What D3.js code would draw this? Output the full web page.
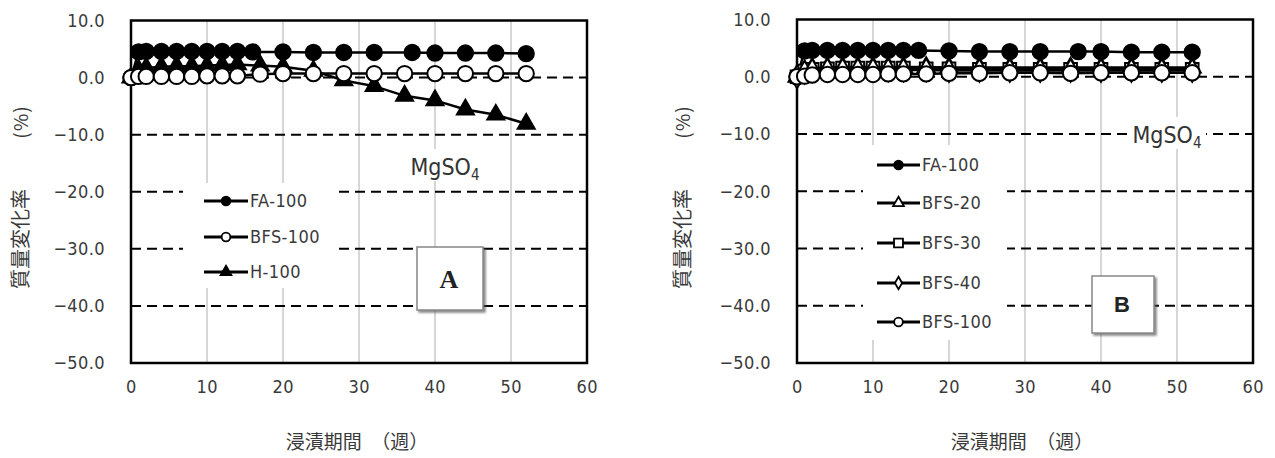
<!DOCTYPE html>
<html>
<head>
<meta charset="utf-8">
<script src="https://cdn.jsdelivr.net/npm/d3@7"></script>
<style>
  body { margin: 0; background: #fff; }
  svg { display: block; }
</style>
</head>
<body>
<div id="wrapper"></div>
<script>
// ---- data ----
const xTicks = [0, 10, 20, 30, 40, 50, 60];
const yTicks = [10, 0, -10, -20, -30, -40, -50];
const yGrid = [0, -10, -20, -30, -40];
const xGrid = [10, 20, 30, 40, 50];

const weeksFA = [0, 1, 2, 4, 6, 8, 10, 12, 14, 16, 20, 24, 28, 32, 37, 40, 44, 48, 52];
const weeksBFS = [0, 1, 2, 4, 6, 8, 10, 12, 14, 17, 20, 24, 28, 32, 36, 40, 44, 48, 52];

// panel A
const aFA100 = [0, 4.5, 4.6, 4.6, 4.6, 4.6, 4.6, 4.6, 4.6, 4.5, 4.5, 4.4, 4.4, 4.4, 4.4, 4.3, 4.3, 4.3, 4.2];
const aBFS100 = [0, 0.2, 0.2, 0.2, 0.2, 0.2, 0.3, 0.3, 0.3, 0.6, 0.7, 0.7, 0.7, 0.7, 0.7, 0.7, 0.7, 0.7, 0.7];
const aH100 = [0, 1.3, 1.7, 1.9, 2.0, 2.0, 2.1, 2.2, 2.3, 2.1, 1.9, 1.2, -0.5, -1.5, -3.2, -4.0, -5.6, -6.5, -8.1];

// panel B
const bFA100 = [0, 4.5, 4.6, 4.6, 4.6, 4.6, 4.6, 4.6, 4.6, 4.6, 4.5, 4.4, 4.4, 4.4, 4.4, 4.4, 4.3, 4.3, 4.3];
const bBFS20 = [0, 1.1, 1.5, 1.6, 1.7, 1.7, 1.7, 1.7, 1.7, 1.7, 1.6, 1.6, 1.6, 1.6, 1.6, 1.6, 1.6, 1.6, 1.6];
const bBFS30 = [0, 1.0, 1.3, 1.4, 1.5, 1.5, 1.5, 1.5, 1.5, 1.4, 1.4, 1.3, 1.3, 1.3, 1.3, 1.3, 1.3, 1.3, 1.3];
const bBFS40 = [0, 0.8, 1.1, 1.2, 1.2, 1.2, 1.2, 1.2, 1.2, 1.2, 1.1, 1.1, 1.1, 1.1, 1.1, 1.1, 1.1, 1.1, 1.1];
const bBFS100 = [0, 0.1, 0.3, 0.4, 0.4, 0.4, 0.4, 0.5, 0.5, 0.5, 0.6, 0.6, 0.7, 0.7, 0.6, 0.7, 0.7, 0.7, 0.7];

const seriesA = [
  { name: "H-100", weeks: weeksBFS, values: aH100, symbol: "triangle", fill: "#000" },
  { name: "FA-100", weeks: weeksFA, values: aFA100, symbol: "circle", fill: "#000" },
  { name: "BFS-100", weeks: weeksBFS, values: aBFS100, symbol: "circle", fill: "#fff" },
];
const legendA = ["FA-100", "BFS-100", "H-100"];

const seriesB = [
  { name: "FA-100", weeks: weeksFA, values: bFA100, symbol: "circle", fill: "#000" },
  { name: "BFS-20", weeks: weeksBFS, values: bBFS20, symbol: "triangle", fill: "#fff" },
  { name: "BFS-30", weeks: weeksBFS, values: bBFS30, symbol: "square", fill: "#fff" },
  { name: "BFS-40", weeks: weeksBFS, values: bBFS40, symbol: "diamond", fill: "#fff" },
  { name: "BFS-100", weeks: weeksBFS, values: bBFS100, symbol: "circle", fill: "#fff" },
];
const legendB = ["FA-100", "BFS-20", "BFS-30", "BFS-40", "BFS-100"];

const xTitle = "浸漬期間　（週）";
const yTitleMain = "質量変化率";
const yTitleUnit = "(%)";

// ---- drawing ----
const width = 1275, height = 458;
const tickFont = "'Liberation Sans Narrow', 'DejaVu Sans Condensed', sans-serif";
const jpFont = "'Noto Sans CJK JP', sans-serif";
const textGray = "#3a3a3a";

const svg = d3.select("#wrapper").append("svg")
  .attr("width", width)
  .attr("height", height);

const defs = svg.append("defs");
defs.append("filter").attr("id", "shadow")
  .attr("x", "-20%").attr("y", "-20%").attr("width", "150%").attr("height", "150%")
  .append("feDropShadow")
  .attr("dx", 2).attr("dy", 2).attr("stdDeviation", 1)
  .attr("flood-color", "#555").attr("flood-opacity", 0.7);

const symbolTypes = {
  circle: d3.symbolCircle,
  triangle: d3.symbolTriangle,
  square: d3.symbolSquare,
  diamond: d3.symbolDiamond,
};
const bigSize = { circle: 185, triangle: 125, square: 160, diamond: 150 };
const smallSize = { circle: 60, triangle: 50, square: 80, diamond: 45 };

// narrow gothic-like text used for ticks and legend
function tickText(sel) {
  return sel
    .attr("font-family", tickFont).attr("font-size", 18)
    .attr("letter-spacing", 0.4)
    .attr("fill", textGray);
}

function drawPanel(cfg) {
  const x = d3.scaleLinear().domain([0, 60]).range([cfg.left, cfg.right]);
  const y = d3.scaleLinear().domain([-50, 10]).range([cfg.bottom, cfg.top]);

  const g = svg.append("g");

  // vertical light grid
  g.append("g").selectAll("line").data(xGrid).join("line")
    .attr("x1", d => x(d)).attr("x2", d => x(d))
    .attr("y1", cfg.top).attr("y2", cfg.bottom)
    .attr("stroke", "#c8c8c8").attr("stroke-width", 1.5);

  // horizontal dashed grid
  g.append("g").selectAll("line").data(yGrid).join("line")
    .attr("x1", cfg.left).attr("x2", cfg.right)
    .attr("y1", d => y(d)).attr("y2", d => y(d))
    .attr("stroke", "#000").attr("stroke-width", 2)
    .attr("stroke-dasharray", "10,6");

  // white boxes (legend, label) sit over grid
  g.append("rect")
    .attr("x", cfg.legend.x).attr("y", cfg.legend.y)
    .attr("width", cfg.legend.w).attr("height", cfg.legend.h)
    .attr("fill", "#fff");
  g.append("rect")
    .attr("x", cfg.salt.x - cfg.salt.w / 2).attr("y", cfg.salt.y - 18)
    .attr("width", cfg.salt.w).attr("height", 32)
    .attr("fill", "#fff");

  // plot frame
  g.append("rect")
    .attr("x", cfg.left).attr("y", cfg.top)
    .attr("width", cfg.right - cfg.left).attr("height", cfg.bottom - cfg.top)
    .attr("fill", "none").attr("stroke", "#000").attr("stroke-width", 2.5);

  // tick labels
  g.append("g").selectAll("text").data(yTicks).join("text")
    .attr("x", cfg.yLabelX).attr("y", d => y(d))
    .attr("dy", "0.35em")
    .attr("text-anchor", "end")
    .call(tickText)
    .text(d3.format(".1f"));

  g.append("g").selectAll("text").data(xTicks).join("text")
    .attr("x", d => x(d) + 0.3).attr("y", 387)
    .attr("dy", "0.35em")
    .attr("text-anchor", "middle")
    .call(tickText)
    .text(d => d);

  // series
  const line = d3.line().x(d => x(d[0])).y(d => y(d[1]));
  cfg.series.forEach(s => {
    const pts = s.weeks.map((w, i) => [w, s.values[i]]);
    g.append("path")
      .attr("d", line(pts))
      .attr("fill", "none").attr("stroke", "#000").attr("stroke-width", 2.5);
    g.append("g").selectAll("path").data(pts).join("path")
      .attr("transform", d => `translate(${x(d[0])},${y(d[1])})`)
      .attr("d", d3.symbol(symbolTypes[s.symbol], bigSize[s.symbol]))
      .attr("fill", s.fill).attr("stroke", "#000").attr("stroke-width", 2);
  });

  // legend
  const lg = g.append("g");
  cfg.legendNames.forEach((name, i) => {
    const s = cfg.series.find(d => d.name === name);
    const ly = cfg.legend.rows[i];
    lg.append("line")
      .attr("x1", cfg.legend.lineX0).attr("x2", cfg.legend.lineX1)
      .attr("y1", ly).attr("y2", ly)
      .attr("stroke", "#000").attr("stroke-width", 3);
    lg.append("path")
      .attr("transform", `translate(${(cfg.legend.lineX0 + cfg.legend.lineX1) / 2},${ly})`)
      .attr("d", d3.symbol(symbolTypes[s.symbol], smallSize[s.symbol]))
      .attr("fill", s.fill).attr("stroke", "#000").attr("stroke-width", 1.8);
    lg.append("text")
      .attr("x", cfg.legend.lineX1 + 2).attr("y", ly)
      .attr("dy", "0.35em")
      .call(tickText)
      .text(name);
  });

  // MgSO4 label
  const salt = g.append("text")
    .attr("x", cfg.salt.x).attr("y", cfg.salt.y + 8)
    .attr("text-anchor", "middle")
    .attr("font-family", tickFont).attr("font-size", 23)
    .attr("fill", "#333");
  salt.append("tspan").text("MgSO");
  salt.append("tspan").attr("font-size", 15).attr("dy", 5).text("4");

  // letter box
  g.append("rect")
    .attr("x", cfg.tag.x).attr("y", cfg.tag.y)
    .attr("width", cfg.tag.w).attr("height", cfg.tag.h)
    .attr("fill", "#fff").attr("stroke", "#888").attr("stroke-width", 1.5)
    .attr("filter", "url(#shadow)");
  g.append("text")
    .attr("x", cfg.tag.x + cfg.tag.w / 2 - 1).attr("y", cfg.tag.y + cfg.tag.h / 2)
    .attr("dy", "0.35em")
    .attr("text-anchor", "middle")
    .attr("font-family", cfg.tag.font).attr("font-weight", "bold")
    .attr("font-size", cfg.tag.size)
    .attr("fill", "#222")
    .text(cfg.tag.label);

  // axis titles
  g.append("text")
    .attr("x", cfg.xTitleX).attr("y", 442)
    .attr("dy", "0.35em")
    .attr("text-anchor", "middle")
    .attr("font-family", jpFont).attr("font-size", 19)
    .attr("fill", textGray)
    .text(xTitle);

  g.append("text")
    .attr("transform", `translate(${cfg.yTitleX},239) rotate(-90)`)
    .attr("dy", "0.35em")
    .attr("text-anchor", "middle")
    .attr("font-family", jpFont).attr("font-size", 20)
    .attr("fill", textGray)
    .text(yTitleMain);
  g.append("text")
    .attr("transform", `translate(${cfg.yTitleX},122) rotate(-90)`)
    .attr("dy", "0.35em")
    .attr("text-anchor", "middle")
    .attr("font-family", jpFont).attr("font-size", 19)
    .attr("letter-spacing", 1)
    .attr("fill", textGray)
    .text(yTitleUnit);
}

drawPanel({
  left: 131, right: 587, top: 20.5, bottom: 363,
  yLabelX: 105, yTitleX: 21, xTitleX: 357,
  series: seriesA, legendNames: legendA,
  legend: { x: 183, y: 183, w: 152, h: 105, rows: [201, 237, 272], lineX0: 204, lineX1: 248 },
  salt: { x: 445, y: 167, w: 70 },
  tag: { x: 417, y: 247, w: 66, h: 63, label: "A", font: "'Liberation Serif', serif", size: 26 },
});

drawPanel({
  left: 797, right: 1253, top: 19.5, bottom: 363,
  yLabelX: 771, yTitleX: 683, xTitleX: 1022,
  series: seriesB, legendNames: legendB,
  legend: { x: 863, y: 145, w: 144, h: 195, rows: [165, 203, 243, 283, 322], lineX0: 877, lineX1: 920 },
  salt: { x: 1167, y: 135, w: 78 },
  tag: { x: 1092, y: 276, w: 62, h: 57, label: "B", font: "'Liberation Sans', Arial, sans-serif", size: 22 },
});
</script>
</body>
</html>
